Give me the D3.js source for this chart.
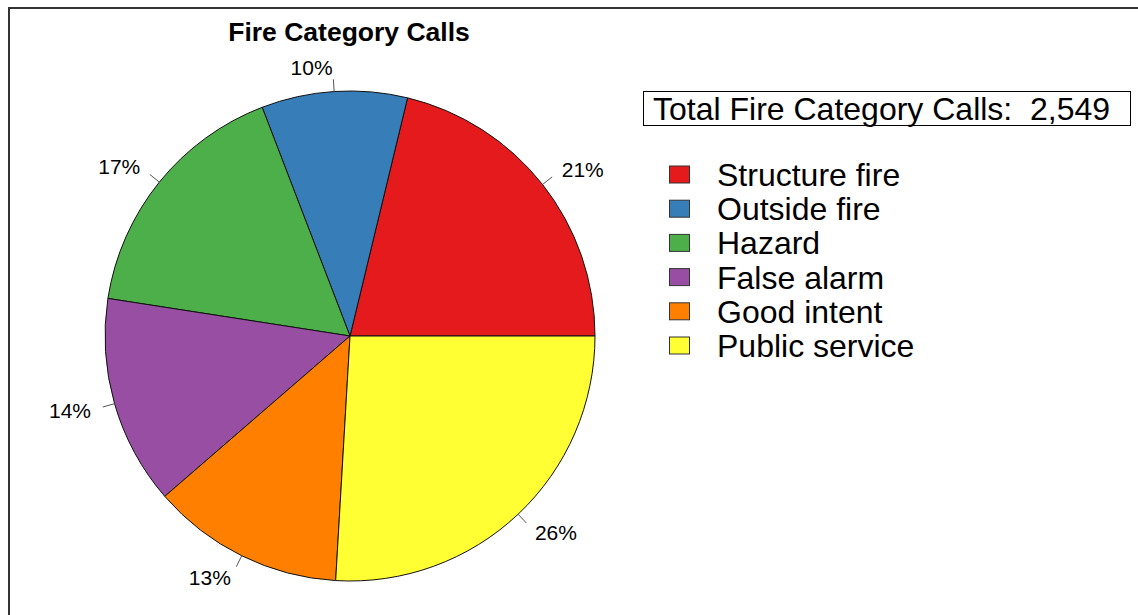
<!DOCTYPE html>
<html>
<head>
<meta charset="utf-8">
<script src="https://cdn.jsdelivr.net/npm/d3@7"></script>
<style>
  html, body { margin: 0; padding: 0; background: #fff; }
  svg { display: block; font-family: "Liberation Sans", Arial, sans-serif; }
</style>
</head>
<body>
<svg id="chart" width="1138" height="615"></svg>
<script>
// ---- data ----
const categories = ["Structure fire", "Outside fire", "Hazard", "False alarm", "Good intent", "Public service"];
const counts = [541, 245, 426, 352, 324, 661];
const colors = ["#E41A1C", "#377EB8", "#4DAF4A", "#984EA3", "#FF7F00", "#FFFF33"];
const title = "Fire Category Calls";
const totalLabel = "Total Fire Category Calls:  ";

const svg = d3.select("#chart");
const W = 1138, H = 615;
svg.append("rect").attr("width", W).attr("height", H).attr("fill", "#fff");

// outer frame (only top/left visible in reference)
svg.append("path")
  .attr("d", `M9,${H + 5} L9,8 L${W + 5},8`)
  .attr("fill", "none").attr("stroke", "#333").attr("stroke-width", 2);

const cx = 350, cy = 336, R = 245;
const total = d3.sum(counts);
const data = categories.map((c, i) => ({ name: c, value: counts[i], color: colors[i] }));

// R-style pie: start at 3 o'clock, counter-clockwise
const pie = d3.pie().value(d => d.value).sort(null)
  .startAngle(Math.PI / 2).endAngle(Math.PI / 2 - 2 * Math.PI);
const arcs = pie(data);
const arc = d3.arc().innerRadius(0).outerRadius(R);

const g = svg.append("g").attr("transform", `translate(${cx},${cy})`);
g.selectAll("path.slice").data(arcs).join("path")
  .attr("class", "slice")
  .attr("d", arc)
  .attr("fill", d => d.data.color)
  .attr("stroke", "#111").attr("stroke-width", 1);

arcs.forEach(a => {
  const m = (a.startAngle + a.endAngle) / 2;
  const sx = Math.sin(m), sy = -Math.cos(m);
  g.append("line")
    .attr("x1", R * sx).attr("y1", R * sy)
    .attr("x2", R * 1.05 * sx).attr("y2", R * 1.05 * sy)
    .attr("stroke", "#555").attr("stroke-width", 1);
  g.append("text")
    .attr("x", R * 1.1 * sx).attr("y", R * 1.1 * sy)
    .attr("dy", "0.36em")
    .attr("text-anchor", sx >= 0 ? "start" : "end")
    .attr("font-size", 21).attr("fill", "#000")
    .text(Math.round(a.data.value / total * 100) + "%");
});

// title
svg.append("text")
  .attr("x", cx - 1).attr("y", 41)
  .attr("text-anchor", "middle")
  .attr("font-size", 26.5).attr("font-weight", "bold")
  .text(title);

// total box
svg.append("rect")
  .attr("x", 643.5).attr("y", 91.5).attr("width", 487).attr("height", 34)
  .attr("fill", "#fff").attr("stroke", "#000").attr("stroke-width", 1);
svg.append("text")
  .attr("x", 653).attr("y", 120)
  .attr("font-size", 32)
  .style("white-space", "pre")
  .attr("xml:space", "preserve")
  .text(totalLabel + d3.format(",")(total));

// legend
const leg = svg.append("g");
const rowY = d3.scaleLinear().domain([0, categories.length - 1]).range([174.5, 345.5]);
data.forEach((d, i) => {
  const y = rowY(i);
  leg.append("rect")
    .attr("x", 669.5).attr("y", y - 8.5).attr("width", 20).attr("height", 17)
    .attr("fill", d.color).attr("stroke", "#333").attr("stroke-width", 1);
  leg.append("text")
    .attr("x", 717).attr("y", y).attr("dy", "0.36em")
    .attr("font-size", 32)
    .text(d.name);
});
</script>
</body>
</html>
